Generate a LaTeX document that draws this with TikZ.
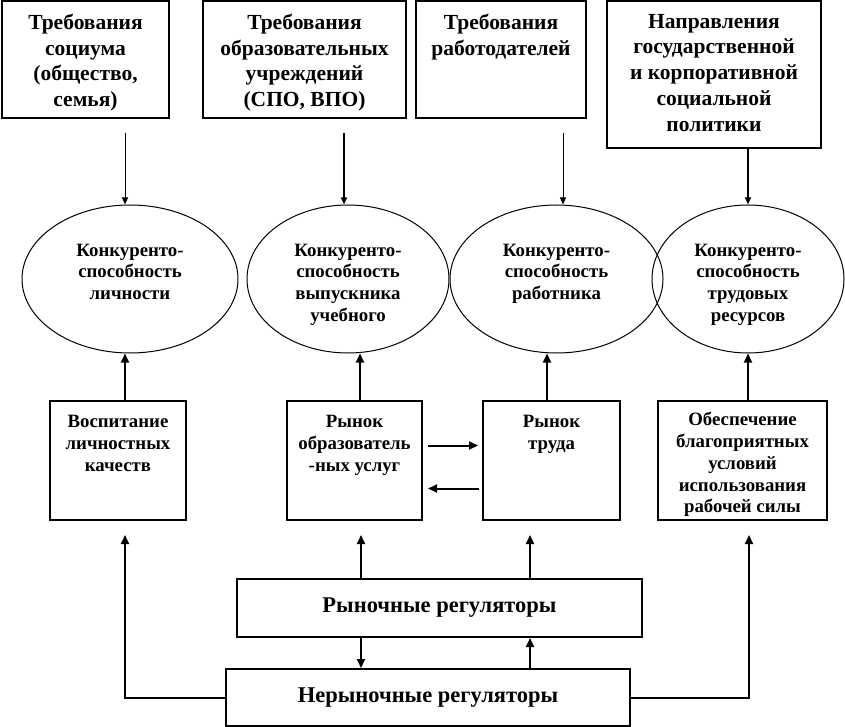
\documentclass[tikz,border=0pt]{standalone}
\usepackage{fontspec}
\setmainfont{Liberation Serif}
\usetikzlibrary{arrows.meta, positioning, shapes.geometric}

\begin{document}
\begin{tikzpicture}[x=1pt, y=-1pt,
  box/.style={draw, line width=2pt, inner sep=0pt},
  oval/.style={draw, ellipse, line width=1pt, inner sep=0pt, minimum height=148pt},
  big/.style={align=center, inner sep=0pt, font=\bfseries\fontsize{21.5}{25.7}\selectfont},
  small/.style={align=center, inner sep=0pt, font=\bfseries\fontsize{18.8}{21.8}\selectfont},
  reg/.style={box, font=\bfseries\fontsize{22.5}{26}\selectfont},
  arr/.style={-{Triangle[length=9pt, width=8pt]}, line width=2pt},
  top/.style={-{Triangle[length=7pt, width=6pt]}, line width=#1}
]
  \useasboundingbox (0,0) rectangle (845,727);

  % Requirements
  \node[box, minimum width=167pt, minimum height=117pt] (req1) at (85.5,59.5) {};
  \node[box, minimum width=203pt, minimum height=117pt] (req2) at (304.5,59.5) {};
  \node[box, minimum width=170pt, minimum height=117pt] (req3) at (501,59.5) {};
  \node[box, minimum width=214pt, minimum height=147pt] (req4) at (714,74.5) {};
  \node[big, below=14pt of req1.north] (req1t) {Требования\\социума\\(общество,\\семья)};
  \node[big, below=14pt of req2.north] (req2t) {Требования\\образовательных\\учреждений\\(СПО, ВПО)};
  \node[big, below=14pt of req3.north] (req3t) {Требования\\работодателей};
  \node[big, below=14pt of req4.north] (req4t) {Направления\\государственной\\и корпоративной\\социальной\\политики};

  % Competitiveness
  \node[oval, minimum width=216pt] (ell1) at (130,279) {};
  \node[oval, minimum width=202pt] (ell2) at (348,279) {};
  \node[oval, minimum width=213pt] (ell3) at (556.5,279) {};
  \node[oval, minimum width=192pt] (ell4) at (748,279) {};
  \node[small, below=39pt of ell1.north] (ell1t) {Конкуренто-\\способность\\личности};
  \node[small, below=39pt of ell2.north] (ell2t) {Конкуренто-\\способность\\выпускника\\учебного};
  \node[small, below=39pt of ell3.north] (ell3t) {Конкуренто-\\способность\\работника};
  \node[small, below=39pt of ell4.north] (ell4t) {Конкуренто-\\способность\\трудовых\\ресурсов};

  % Markets and conditions
  \node[box, minimum width=136pt, minimum height=119pt] (mid1) at (118,460.5) {};
  \node[box, minimum width=135pt, minimum height=119pt] (mid2) at (354.5,460.5) {};
  \node[box, minimum width=137pt, minimum height=119pt] (mid3) at (551.5,460.5) {};
  \node[box, minimum width=169pt, minimum height=119pt] (mid4) at (742.5,460.5) {};
  \node[small, below=15pt of mid1.north] (mid1t) {Воспитание\\личностных\\качеств};
  \node[small, below=15pt of mid2.north] (mid2t) {Рынок\\образователь\\-ных услуг};
  \node[small, below=15pt of mid3.north] (mid3t) {Рынок\\труда};
  \node[small, below=12pt of mid4.north] (mid4t) {Обеспечение\\благоприятных\\условий\\использования\\рабочей силы};

  % Regulators
  \node[reg, minimum width=405pt, minimum height=58pt] (mkt) at (439.5,608) {Рыночные регуляторы};
  \node[reg, minimum width=404pt, minimum height=57pt] (nonmkt) at (428,697.5) {Нерыночные регуляторы};

  % Arrows down to the ovals
  \coordinate (in1) at (125,133);
  \coordinate (in2) at (344,133);
  \coordinate (in3) at (563,133);
  \draw[top=1pt] (in1) -- (in1 |- ell1.north);
  \draw[top=2pt] (in2) -- (in2 |- ell2.north);
  \draw[top=1pt] (in3) -- (in3 |- ell3.north);
  \draw[top=2pt] (req4.south -| ell4.north) -- (ell4.north);

  % Arrows up to the ovals
  \draw[arr] (mid1.north -| in1) -- (in1 |- ell1.south);
  \draw[arr] (360,0 |- mid2.north) -- (360,0 |- ell2.south);
  \draw[arr] (547,0 |- mid3.north) -- (547,0 |- ell3.south);
  \draw[arr] (mid4.north -| ell4.south) -- (ell4.south);

  % Between the markets
  \draw[arr] ([shift={(5pt,15pt)}]mid2.east) -- ([shift={(-4pt,15pt)}]mid3.west);
  \draw[arr] ([shift={(-3pt,-28pt)}]mid3.west) -- ([shift={(5pt,-28pt)}]mid2.east);

  % Regulators up to the boxes
  \coordinate (up1) at (125,535);
  \coordinate (up2) at (361,535);
  \coordinate (up3) at (530,535);
  \coordinate (up4) at (749,535);
  \draw[arr] (nonmkt.west) -| (up1);
  \draw[arr] (mkt.north -| up2) -- (up2);
  \draw[arr] (mkt.north -| up3) -- (up3);
  \draw[arr] (nonmkt.east) -| (up4);
  \draw[arr] (mkt.south -| up2) -- (nonmkt.north -| up2);
  \draw[arr] (nonmkt.north -| up3) -- (mkt.south -| up3);
\end{tikzpicture}
\end{document}
